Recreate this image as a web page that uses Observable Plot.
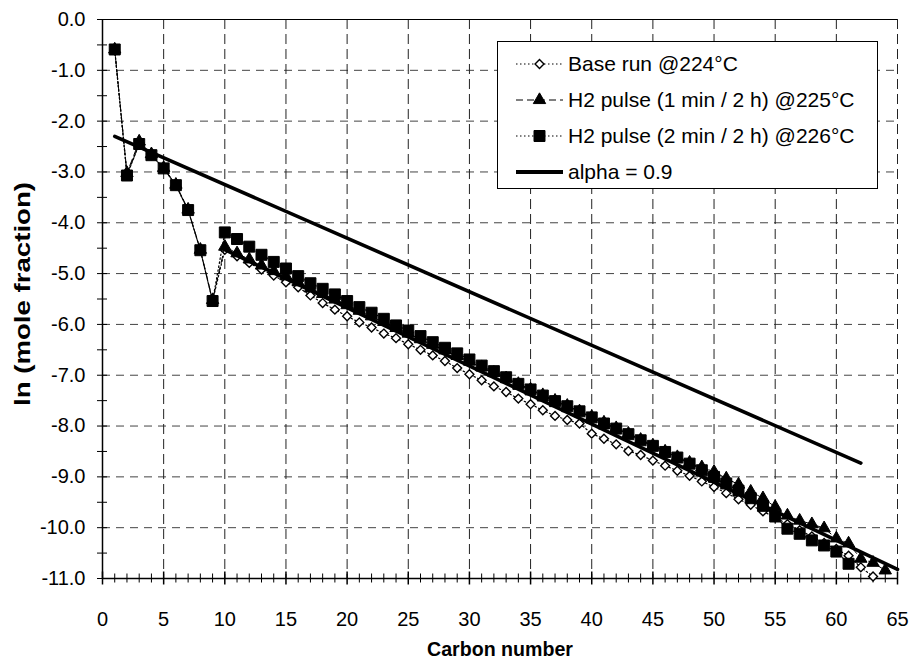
<!DOCTYPE html>
<html><head><meta charset="utf-8">
<script src="https://cdn.jsdelivr.net/npm/d3@7"></script>
<script src="https://cdn.jsdelivr.net/npm/@observablehq/plot@0.6"></script>
<style>
html,body{margin:0;padding:0;background:#fff;}
#wrap{position:relative;width:912px;height:663px;font-family:"Liberation Sans",Arial,sans-serif;color:#000;}
#legend{position:absolute;left:497px;top:41px;width:379px;height:142px;border:1px solid #000;background:#fff;padding-top:4px;}
#legend .row{display:flex;align-items:center;height:36px;padding-left:18px;font-size:21px;white-space:nowrap;}
#legend svg{flex:none;}
</style></head>
<body><div id="wrap"></div>
<script>
// ---- data ----
const seriesNames = ["Base run @224°C", "H2 pulse (1 min / 2 h) @225°C", "H2 pulse (2 min / 2 h) @226°C", "alpha = 0.9"];

const carbonBase = [1,2,3,4,5,6,7,8,9,10,11,12,13,14,15,16,17,18,19,20,21,22,23,24,25,26,27,28,29,30,31,32,33,34,35,36,37,38,39,40,41,42,43,44,45,46,47,48,49,50,51,52,53,54,55,56,57,58,59,60,61,62,63];
const lnBase = [-0.60,-3.05,-2.45,-2.67,-2.93,-3.26,-3.75,-4.54,-5.54,-4.53,-4.66,-4.79,-4.92,-5.04,-5.17,-5.27,-5.43,-5.58,-5.71,-5.84,-5.96,-6.06,-6.18,-6.27,-6.39,-6.50,-6.61,-6.72,-6.86,-6.98,-7.10,-7.22,-7.33,-7.46,-7.57,-7.69,-7.80,-7.88,-7.95,-8.15,-8.25,-8.36,-8.49,-8.57,-8.68,-8.78,-8.88,-8.98,-9.09,-9.20,-9.32,-9.44,-9.55,-9.68,-9.80,-9.93,-10.05,-10.17,-10.30,-10.42,-10.55,-10.78,-10.96];

const carbonPulse1 = [1,2,3,4,5,6,7,8,9,10,11,12,13,14,15,16,17,18,19,20,21,22,23,24,25,26,27,28,29,30,31,32,33,34,35,36,37,38,39,40,41,42,43,44,45,46,47,48,49,50,51,52,53,54,55,56,57,58,59,60,61,62,63,64];
const lnPulse1 = [-0.59,-3.02,-2.40,-2.65,-2.92,-3.25,-3.74,-4.53,-5.52,-4.47,-4.60,-4.72,-4.84,-4.95,-5.05,-5.17,-5.29,-5.40,-5.51,-5.62,-5.73,-5.84,-5.95,-6.07,-6.18,-6.29,-6.40,-6.51,-6.62,-6.73,-6.84,-6.95,-7.06,-7.17,-7.28,-7.39,-7.50,-7.60,-7.71,-7.82,-7.93,-8.04,-8.15,-8.27,-8.38,-8.50,-8.61,-8.72,-8.81,-8.90,-9.03,-9.15,-9.29,-9.42,-9.59,-9.76,-9.86,-9.93,-10.01,-10.21,-10.31,-10.61,-10.69,-10.84];

const carbonPulse2 = [1,2,3,4,5,6,7,8,9,10,11,12,13,14,15,16,17,18,19,20,21,22,23,24,25,26,27,28,29,30,31,32,33,34,35,36,37,38,39,40,41,42,43,44,45,46,47,48,49,50,51,52,53,54,55,56,57,58,59,60,61];
const lnPulse2 = [-0.59,-3.07,-2.45,-2.67,-2.93,-3.26,-3.75,-4.54,-5.54,-4.19,-4.32,-4.47,-4.63,-4.77,-4.90,-5.05,-5.19,-5.30,-5.41,-5.54,-5.66,-5.77,-5.89,-6.02,-6.12,-6.23,-6.35,-6.46,-6.57,-6.69,-6.81,-6.92,-7.04,-7.17,-7.28,-7.40,-7.51,-7.61,-7.71,-7.83,-7.95,-8.05,-8.16,-8.28,-8.39,-8.51,-8.62,-8.74,-8.87,-9.00,-9.13,-9.27,-9.42,-9.57,-9.78,-10.02,-10.12,-10.25,-10.35,-10.47,-10.71];

// two straight reference segments (alpha line)
const alphaSegment = ["upper","upper","lower","lower"];
const alphaCarbon = [1, 62, 10, 65];
const alphaLn = [-2.30, -8.73, -4.53, -10.82];

const xMajorTicks = [0,5,10,15,20,25,30,35,40,45,50,55,60,65];
const xMinorTicks = [1,2,3,4,6,7,8,9,11,12,13,14,16,17,18,19,21,22,23,24,26,27,28,29,31,32,33,34,36,37,38,39,41,42,43,44,46,47,48,49,51,52,53,54,56,57,58,59,61,62,63,64];
const yMajorTicks = [0,-1,-2,-3,-4,-5,-6,-7,-8,-9,-10,-11];
const yMinorTicks = [-0.5,-1.5,-2.5,-3.5,-4.5,-5.5,-6.5,-7.5,-8.5,-9.5,-10.5];
const xGrid = [5,10,15,20,25,30,35,40,45,50,55,60,65];
const yGrid = [-1,-2,-3,-4,-5,-6,-7,-8,-9,-10];
const xTitle = "Carbon number";
const yTitle = "ln (mole fraction)";

// ---- tables ----
const base = carbonBase.map((c,i)=>({c, v: lnBase[i]}));
const pulse1 = carbonPulse1.map((c,i)=>({c, v: lnPulse1[i]}));
const pulse2 = carbonPulse2.map((c,i)=>({c, v: lnPulse2[i]}));
const alpha = alphaCarbon.map((c,i)=>({c, v: alphaLn[i], seg: alphaSegment[i]}));

const chart = Plot.plot({
  width: 912, height: 663,
  marginLeft: 102, marginRight: 15, marginTop: 19, marginBottom: 85,
  style: {fontFamily: '"Liberation Sans", Arial, sans-serif', fontSize: "20px", color: "#000", background: "#fff", overflow: "visible"},
  x: {domain: [0, 65], axis: null},
  y: {domain: [-11, 0], axis: null},
  marks: [
    Plot.ruleY(yGrid, {stroke: "#444", strokeWidth: 1, strokeDasharray: "8,6"}),
    Plot.ruleX(xGrid, {stroke: "#222", strokeWidth: 1, strokeDasharray: "10,5"}),
    Plot.ruleY([0], {stroke: "#000", strokeWidth: 1}),
    Plot.ruleY([-11], {stroke: "#000", strokeWidth: 1.5}),
    Plot.ruleX([0], {stroke: "#000", strokeWidth: 1.5}),
    // ticks (crossing the axes)
    Plot.ruleX(xMinorTicks, {y1: -11, y2: -11, insetTop: -4.5, insetBottom: -4.5, stroke: "#000", strokeWidth: 1}),
    Plot.ruleX(xMajorTicks, {y1: -11, y2: -11, insetTop: -6.5, insetBottom: -6.5, stroke: "#000", strokeWidth: 1.5}),
    Plot.ruleY(yMinorTicks, {x1: 0, x2: 0, insetLeft: -5, insetRight: -5, stroke: "#000", strokeWidth: 1}),
    Plot.ruleY(yMajorTicks, {x1: 0, x2: 0, insetLeft: -5, insetRight: -5, stroke: "#000", strokeWidth: 1}),
    // tick labels
    Plot.text(xMajorTicks, {x: d => d, frameAnchor: "bottom", lineAnchor: "middle", dy: 41, text: d => String(d), fontSize: 20, fill: "#000"}),
    Plot.text(yMajorTicks, {y: d => d, frameAnchor: "left", textAnchor: "end", dx: -17, text: d => d.toFixed(1), fontSize: 20, fill: "#000"}),
    // base run
    Plot.line(base, {x: "c", y: "v", stroke: "#000", strokeWidth: 1.2, strokeDasharray: "1.5,2.5"}),
    Plot.dot(base, {x: "c", y: "v", symbol: "diamond2", r: 4.0, fill: "#fff", stroke: "#000", strokeWidth: 1.4}),
    // H2 pulse 1 min
    Plot.line(pulse1, {x: "c", y: "v", stroke: "#000", strokeWidth: 1, strokeDasharray: "7,4"}),
    Plot.dot(pulse1, {x: "c", y: "v", symbol: "triangle", r: 4.6, fill: "#000", stroke: "#000", strokeWidth: 1}),
    // H2 pulse 2 min
    Plot.line(pulse2, {x: "c", y: "v", stroke: "#000", strokeWidth: 1.2, strokeDasharray: "1.5,2.5"}),
    Plot.dot(pulse2, {x: "c", y: "v", symbol: "square", r: 6.2, fill: "#000", stroke: "#000", strokeWidth: 1}),
    // alpha lines
    Plot.line(alpha, {x: "c", y: "v", z: "seg", stroke: "#000", strokeWidth: 3.6}),
    // titles
    Plot.text([xTitle], {frameAnchor: "bottom", dy: 71, lineAnchor: "middle", textAnchor: "middle", fontSize: 21, fontWeight: "bold", fill: "#000"}),
    Plot.text([yTitle], {frameAnchor: "left", dx: -80, dy: -5, rotate: -90, lineAnchor: "middle", textAnchor: "middle", fontSize: 22, fontWeight: "bold", fill: "#000"})
  ]
});

const wrap = document.getElementById("wrap");
wrap.appendChild(chart);
// the titles of the reference are drawn stretched / condensed along their length
d3.select(chart).selectAll("text").filter(function() { return this.textContent === yTitle; })
  .attr("textLength", 224).attr("lengthAdjust", "spacingAndGlyphs");
d3.select(chart).selectAll("text").filter(function() { return this.textContent === xTitle; })
  .attr("textLength", 146).attr("lengthAdjust", "spacingAndGlyphs");

// ---- legend (overlay inside the plot area) ----
const legend = document.createElement("div");
legend.id = "legend";
wrap.appendChild(legend);
const swatches = [
  {dash: "1.5,2.5", width: 1.2, symbol: d3.symbolDiamond2, size: Math.PI*4.0*4.0, fill: "#fff", stroke: "#000"},
  {dash: "7,4", width: 1, symbol: d3.symbolTriangle, size: Math.PI*4.6*4.6, fill: "#000", stroke: "#000"},
  {dash: "1.5,2.5", width: 1.2, symbol: d3.symbolSquare, size: Math.PI*6.2*6.2, fill: "#000", stroke: "#000"},
  {dash: null, width: 4, symbol: null}
];
seriesNames.forEach((name, i) => {
  const row = d3.select(legend).append("div").attr("class", "row");
  const svg = row.append("svg").attr("width", 52).attr("height", 24);
  const s = swatches[i];
  svg.append("line").attr("x1", 0).attr("x2", 47).attr("y1", 12).attr("y2", 12)
    .attr("stroke", "#000").attr("stroke-width", s.width).attr("stroke-dasharray", s.dash);
  if (s.symbol) {
    svg.append("path").attr("transform", "translate(23.5,12)")
      .attr("d", d3.symbol(s.symbol, s.size)()).attr("fill", s.fill).attr("stroke", s.stroke).attr("stroke-width", i === 0 ? 1.4 : 1);
  }
  row.append("span").text(name);
});
</script>
</body></html>
